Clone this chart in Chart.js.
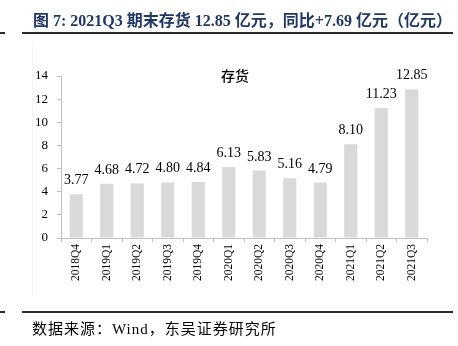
<!DOCTYPE html>
<html lang="zh">
<head>
<meta charset="UTF-8">
<title>2021Q3 期末存货</title>
<style>
  body { margin: 0; background: #fff; }
  #wrap { position: relative; width: 458px; height: 346px; overflow: hidden; }
  #chart { position: absolute; left: 0; top: 0; }
  .rule { position: absolute; background: #2b2b2b; }
  #title { position: absolute; left: 33px; top: 7px; white-space: nowrap;
           font: bold 16px "Liberation Serif", "Noto Sans CJK SC", serif; color: #1f3864; }
  #ctitle { position: absolute; left: 221px; top: 65px; white-space: nowrap;
            font: 500 14px "Noto Sans CJK SC", sans-serif; color: #000; }
  #source { position: absolute; left: 32px; top: 317px; white-space: nowrap; letter-spacing: 1px;
            font: 15px "Liberation Serif", "Noto Sans CJK SC", serif; color: #000; }
  #frame { position: absolute; left: 32px; top: 44px; width: 1px; height: 252px; background: #f2f2f2; }
</style>
</head>
<body>
<div id="wrap">
  <canvas id="chart" width="458" height="346"></canvas>
  <div id="frame"></div>
  <div id="title">图 7: 2021Q3 期末存货 12.85 亿元，同比+7.69 亿元（亿元）</div>
  <div class="rule" style="left:0;top:32px;width:5px;height:2px"></div>
  <div class="rule" style="left:22px;top:32px;width:431px;height:2px"></div>
  <div id="ctitle">存货</div>
  <div class="rule" style="left:0;top:311px;width:5px;height:2px"></div>
  <div class="rule" style="left:22px;top:311px;width:431px;height:2px"></div>
  <div id="source">数据来源：Wind，东吴证券研究所</div>
</div>
<script src="https://cdn.jsdelivr.net/npm/chart.js"></script>
<script>
const quarters = ['2018Q4', '2019Q1', '2019Q2', '2019Q3', '2019Q4', '2020Q1',
                  '2020Q2', '2020Q3', '2020Q4', '2021Q1', '2021Q2', '2021Q3'];
const inventory = [3.77, 4.68, 4.72, 4.80, 4.84, 6.13, 5.83, 5.16, 4.79, 8.10, 11.23, 12.85];
const yTicks = [0, 2, 4, 6, 8, 10, 12, 14];

const serif = 'Liberation Serif';

// value labels above each bar
const valueLabels = {
  id: 'valueLabels',
  afterDatasetsDraw(chart) {
    const ctx = chart.ctx;
    const meta = chart.getDatasetMeta(0);
    ctx.save();
    ctx.font = '14px ' + serif;
    ctx.fillStyle = '#000';
    ctx.textAlign = 'center';
    ctx.textBaseline = 'alphabetic';
    meta.data.forEach((bar, i) => {
      ctx.fillText(inventory[i].toFixed(2), bar.x, bar.y - 10);
    });
    ctx.restore();
  }
};

new Chart(document.getElementById('chart'), {
  type: 'bar',
  data: {
    labels: quarters,
    datasets: [{
      label: '存货',
      data: inventory,
      backgroundColor: '#d9d9d9',
      categoryPercentage: 1,
      barPercentage: 0.43
    }]
  },
  options: {
    responsive: false,
    animation: false,
    layout: { padding: { top: 76, right: 31, bottom: 0, left: 0 } },
    plugins: { legend: { display: false }, tooltip: { enabled: false } },
    scales: {
      x: {
        grid: { offset: true, drawOnChartArea: false, tickLength: 4, color: '#bfbfbf' },
        border: { color: '#bfbfbf' },
        ticks: { minRotation: 90, maxRotation: 90, padding: 2, color: '#000',
                 font: { family: serif, size: 11.5 } },
        afterFit(s) { s.height = 108; }
      },
      y: {
        min: 0, max: 14,
        afterBuildTicks(s) { s.ticks = yTicks.map(v => ({ value: v })); },
        grid: { drawOnChartArea: false, tickLength: 4, color: '#bfbfbf' },
        border: { color: '#bfbfbf' },
        ticks: { padding: 9, color: '#000', font: { family: serif, size: 13 } },
        afterFit(s) { s.width = 61; }
      }
    }
  },
  plugins: [valueLabels]
});
</script>
</body>
</html>
